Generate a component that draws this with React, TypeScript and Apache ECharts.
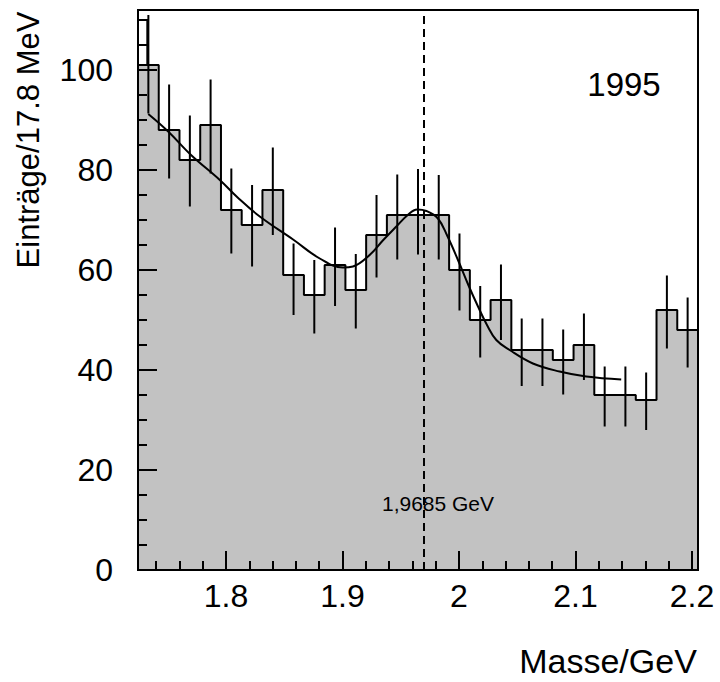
import React, { useEffect, useRef } from "react";
import * as echarts from "echarts";

// Histogram binning (17.8 MeV bins)
const binStart = 1.7245;
const binWidth = 0.0178;
const counts = [101, 88, 82, 89, 72, 69, 76, 59, 55, 61, 56, 67, 71, 71, 71, 60, 50, 54, 44, 44, 42, 45, 35, 35, 34, 52, 48];
const errLow = [91.3, 78.3, 72.7, 79.3, 63.3, 60.7, 67, 51, 47.3, 52.8, 48.3, 58.5, 62.1, 63.1, 62.1, 51.9, 42.5, 46, 36.8, 36.8, 35.1, 38, 28.7, 28.7, 28, 44.3, 40.5];
const errHigh = [111, 97.1, 90.9, 98.1, 80.3, 77, 84.5, 65.3, 62, 68.5, 63.2, 75, 79.1, 80.2, 79, 67.3, 56.8, 61.1, 50.3, 50.3, 48.1, 51.3, 40.7, 40.7, 39.5, 58.9, 54.5];

// Outline-only partial box at the left edge
const edgeBox = [[1.7245, 1.7325, 101, 110]];

// Fit curve
const fitX = [1.7333, 1.7504, 1.7700, 1.7947, 1.8100, 1.8290, 1.8576, 1.8805, 1.9004, 1.9090, 1.9233, 1.9350, 1.9462, 1.9560, 1.9640, 1.9720, 1.9819, 1.9900, 1.9991, 2.0080, 2.0163, 2.0240, 2.0320, 2.0434, 2.0634, 2.0863, 2.1092, 2.1392];
const fitY = [91.2, 87.7, 83.0, 78.0, 74.5, 70.7, 66.1, 62.3, 60.5, 60.7, 63.0, 66.0, 68.7, 71.0, 72.1, 71.8, 70.3, 66.8, 62.0, 57.0, 52.7, 49.0, 46.0, 44.0, 41.3, 39.7, 38.7, 38.1];

const peakMass = 1.9685;

const xMin = 1.7245;
const xMax = 2.2051;
const xMajor = [1.8, 1.9, 2.0, 2.1, 2.2];
const xMinor = [1.74, 1.76, 1.78, 1.82, 1.84, 1.86, 1.88, 1.92, 1.94, 1.96, 1.98, 2.02, 2.04, 2.06, 2.08, 2.12, 2.14, 2.16, 2.18];
const yMax = 112;
const yMajor = [0, 20, 40, 60, 80, 100];
const yMinor = [5, 10, 15, 25, 30, 35, 45, 50, 55, 65, 70, 75, 85, 90, 95, 105, 110];

const FONT = "Liberation Sans, Arial, Helvetica, sans-serif";

export default function App() {
  const ref = useRef<HTMLDivElement>(null);
  useEffect(() => {
    document.body.style.margin = "0";
    const chart = echarts.init(ref.current!, null, { renderer: "svg" });

    const stepData: number[][] = counts.map((c, i) => [binStart + i * binWidth, c]);
    stepData.push([binStart + counts.length * binWidth, counts[counts.length - 1]]);
    const errData = counts.map((_, i) => [binStart + (i + 0.5) * binWidth, errLow[i], errHigh[i]]);
    const fitData = fitX.map((x, i) => [x, fitY[i]]);

    const axisCommonX = {
      type: "value",
      min: xMin,
      max: xMax,
      position: "bottom",
      axisLine: { show: false },
      splitLine: { show: false },
      z: 10,
    };
    const axisCommonY = {
      type: "value",
      min: 0,
      max: yMax,
      position: "left",
      axisLine: { show: false },
      splitLine: { show: false },
      z: 10,
    };

    chart.setOption({
      animation: false,
      grid: {
        left: 138,
        top: 10,
        width: 560,
        height: 560,
        show: true,
        borderColor: "#000",
        borderWidth: 2,
        backgroundColor: "transparent",
        z: 10,
      },
      xAxis: [
        {
          ...axisCommonX,
          axisTick: { inside: true, length: 19, lineStyle: { color: "#000", width: 2 }, customValues: xMajor },
          axisLabel: {
            customValues: xMajor,
            color: "#000",
            fontFamily: FONT,
            fontSize: 32,
            margin: 10,
            formatter: (v: number) => String(Math.round(v * 10) / 10),
          },
        },
        {
          ...axisCommonX,
          axisTick: { inside: true, length: 9, lineStyle: { color: "#000", width: 2 }, customValues: xMinor },
          axisLabel: { show: false },
        },
      ],
      yAxis: [
        {
          ...axisCommonY,
          axisTick: { inside: true, length: 19, lineStyle: { color: "#000", width: 2 }, customValues: yMajor },
          axisLabel: {
            customValues: yMajor,
            color: "#000",
            fontFamily: FONT,
            fontSize: 32,
            margin: 25,
          },
        },
        {
          ...axisCommonY,
          axisTick: { inside: true, length: 9, lineStyle: { color: "#000", width: 2 }, customValues: yMinor },
          axisLabel: { show: false },
        },
      ],
      series: [
        {
          type: "line",
          xAxisIndex: 0,
          yAxisIndex: 0,
          data: stepData,
          step: "end",
          symbol: "none",
          lineStyle: { color: "#000", width: 2 },
          areaStyle: { color: "#c2c2c2", opacity: 1 },
          z: 2,
        },
        {
          type: "custom",
          xAxisIndex: 0,
          yAxisIndex: 0,
          data: edgeBox,
          renderItem: (params: any, api: any) => {
            const p0 = api.coord([api.value(0), api.value(3)]);
            const p1 = api.coord([api.value(1), api.value(2)]);
            return {
              type: "rect",
              shape: { x: p0[0], y: p0[1], width: p1[0] - p0[0], height: p1[1] - p0[1] },
              style: { fill: "#fff", stroke: "#000", lineWidth: 2 },
            };
          },
          z: 3,
        },
        {
          type: "custom",
          xAxisIndex: 0,
          yAxisIndex: 0,
          data: errData,
          renderItem: (params: any, api: any) => {
            const a = api.coord([api.value(0), api.value(1)]);
            const b = api.coord([api.value(0), api.value(2)]);
            return {
              type: "line",
              shape: { x1: a[0], y1: a[1], x2: b[0], y2: b[1] },
              style: { stroke: "#000", lineWidth: 2 },
            };
          },
          z: 4,
        },
        {
          type: "line",
          xAxisIndex: 0,
          yAxisIndex: 0,
          data: fitData,
          smooth: 0.4,
          symbol: "none",
          lineStyle: { color: "#000", width: 2 },
          z: 5,
          markLine: {
            silent: true,
            symbol: "none",
            label: { show: false },
            lineStyle: { color: "#000", width: 2, type: [8, 5] },
            data: [{ xAxis: peakMass }],
          },
        },
      ],
      graphic: [
        {
          type: "text",
          x: 28,
          y: 140,
          rotation: Math.PI / 2,
          style: {
            text: "Einträge/17.8 MeV",
            font: `31px ${FONT}`,
            fill: "#000",
            align: "center",
            verticalAlign: "middle",
          },
        },
        {
          type: "text",
          x: 608,
          y: 661,
          style: {
            text: "Masse/GeV",
            font: `34px ${FONT}`,
            fill: "#000",
            align: "center",
            verticalAlign: "middle",
          },
        },
        {
          type: "text",
          x: 624,
          y: 84,
          z: 20,
          style: {
            text: "1995",
            font: `33px ${FONT}`,
            fill: "#000",
            align: "center",
            verticalAlign: "middle",
          },
        },
        {
          type: "text",
          x: 438,
          y: 503,
          z: 20,
          style: {
            text: "1,9685 GeV",
            font: `21px ${FONT}`,
            fill: "#000",
            align: "center",
            verticalAlign: "middle",
          },
        },
      ],
    });
    return () => chart.dispose();
  }, []);
  return <div ref={ref} style={{ position: "absolute", left: 0, top: 0, width: 720, height: 682 }} />;
}
